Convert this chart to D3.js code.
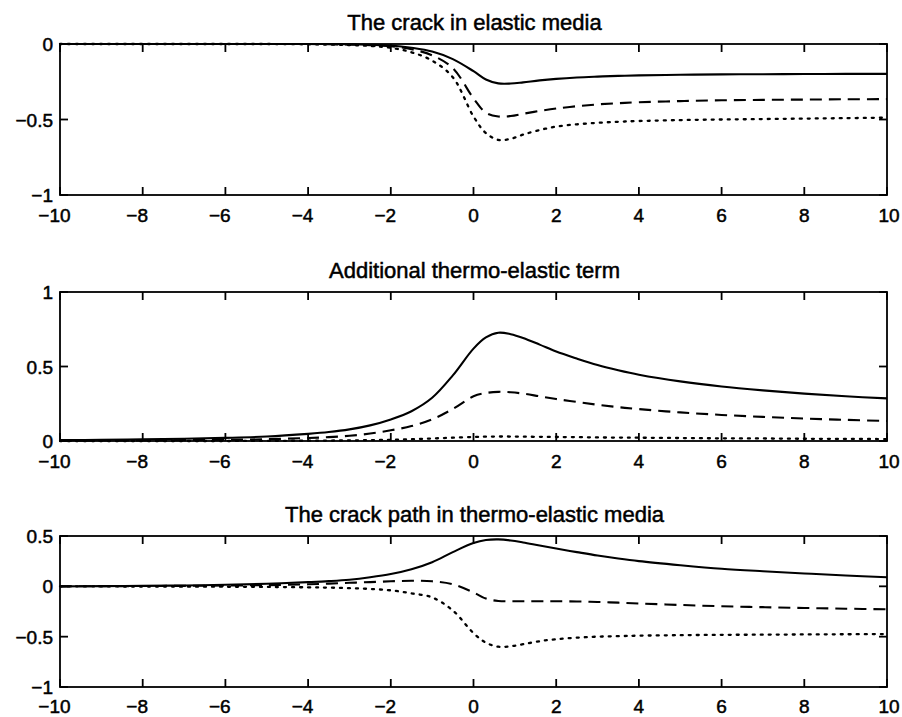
<!DOCTYPE html>
<html>
<head>
<meta charset="utf-8">
<script src="https://cdn.jsdelivr.net/npm/d3@7"></script>
<style>
  html, body { margin: 0; padding: 0; background: #fff; }
  svg { display: block; }
  text { font-family: "Liberation Sans", Arial, Helvetica, sans-serif; fill: #000; }
</style>
</head>
<body>
<svg id="chart" width="902" height="717"></svg>
<script>
// ---- data ----
const xs = [-10,-9,-8,-7,-6,-5,-4,-3.5,-3,-2.5,-2,-1.5,-1,-0.5,0,0.3,0.6,0.9,1.2,1.6,2,2.5,3,3.5,4,5,6,7,8,9,10];

// Panel 1: The crack in elastic media
const elasticSolid  = [0,0,0,0,0,0,0,0,-0.002,-0.005,-0.01,-0.025,-0.05,-0.1,-0.18,-0.235,-0.261,-0.262,-0.254,-0.241,-0.231,-0.222,-0.216,-0.211,-0.208,-0.204,-0.201,-0.2,-0.199,-0.198,-0.198];
const elasticDashed = [0,0,0,0,0,0,0,-0.002,-0.004,-0.008,-0.015,-0.035,-0.075,-0.16,-0.36,-0.455,-0.48,-0.477,-0.462,-0.443,-0.427,-0.412,-0.4,-0.392,-0.386,-0.378,-0.373,-0.37,-0.368,-0.366,-0.365];
const elasticDotted = [0,0,0,0,0,0,-0.002,-0.004,-0.007,-0.013,-0.025,-0.055,-0.11,-0.22,-0.48,-0.59,-0.635,-0.628,-0.6,-0.57,-0.547,-0.532,-0.522,-0.515,-0.51,-0.504,-0.5,-0.497,-0.494,-0.491,-0.488];

// Panel 2: Additional thermo-elastic term
const termSolid  = [0.006,0.008,0.011,0.015,0.021,0.03,0.048,0.06,0.078,0.105,0.145,0.2,0.29,0.44,0.62,0.695,0.727,0.717,0.692,0.647,0.6,0.553,0.51,0.475,0.445,0.4,0.366,0.34,0.318,0.3,0.286];
const termDashed = [0.002,0.003,0.004,0.006,0.008,0.012,0.02,0.026,0.035,0.05,0.072,0.1,0.145,0.215,0.3,0.322,0.33,0.327,0.318,0.3,0.282,0.262,0.243,0.227,0.214,0.192,0.175,0.162,0.151,0.142,0.134];
const termDotted = [0,0,0,0,0,0.001,0.002,0.003,0.004,0.006,0.008,0.012,0.017,0.022,0.027,0.029,0.03,0.03,0.029,0.028,0.027,0.026,0.024,0.023,0.022,0.02,0.018,0.017,0.015,0.014,0.013];

// Panel 3: The crack path in thermo-elastic media
const pathSolid  = [0,0.002,0.005,0.009,0.015,0.025,0.042,0.052,0.066,0.09,0.122,0.17,0.24,0.34,0.43,0.46,0.466,0.456,0.436,0.405,0.375,0.34,0.306,0.276,0.25,0.21,0.175,0.15,0.128,0.108,0.09];
const pathDashed = [0,0.001,0.003,0.005,0.008,0.012,0.02,0.027,0.035,0.042,0.05,0.055,0.05,0.02,-0.06,-0.122,-0.145,-0.148,-0.148,-0.148,-0.148,-0.15,-0.155,-0.162,-0.17,-0.185,-0.198,-0.207,-0.215,-0.222,-0.228];
const pathDotted = [0,-0.001,-0.002,-0.003,-0.004,-0.006,-0.01,-0.013,-0.018,-0.026,-0.04,-0.07,-0.11,-0.24,-0.465,-0.56,-0.6,-0.595,-0.575,-0.545,-0.525,-0.51,-0.5,-0.495,-0.49,-0.485,-0.482,-0.48,-0.478,-0.476,-0.474];

const xTicks = [-10,-8,-6,-4,-2,0,2,4,6,8,10];
const titles = ["The crack in elastic media", "Additional thermo-elastic term", "The crack path in thermo-elastic media"];
const yDomains = [[-1, 0], [0, 1], [-1, 0.5]];
const yTicks = [[-1, -0.5, 0], [0, 0.5, 1], [-1, -0.5, 0, 0.5]];
const seriesSets = [
  [elasticSolid, elasticDashed, elasticDotted],
  [termSolid, termDashed, termDotted],
  [pathSolid, pathDashed, pathDotted]
];

// ---- layout ----
const svg = d3.select("#chart");
svg.append("rect").attr("width", 902).attr("height", 717).attr("fill", "#fff");
const left = 60, right = 887;
const panels = [{top: 44, bottom: 195}, {top: 292, bottom: 441}, {top: 536, bottom: 687}];
const styles = [{dash: null}, {dash: "12,7"}, {dash: "2,6"}];
const tickLen = 8;
const axisW = 1.8;
const textStroke = 0.5;

const x = d3.scaleLinear().domain([-10, 10]).range([left, right]);

function label(g, v, attrs) {
  const t = g.append("text").attr("font-size", 19)
    .attr("stroke", "#000").attr("stroke-width", textStroke);
  Object.entries(attrs).forEach(([k, val]) => t.attr(k, val));
  t.text((v < 0 ? "\u2212" : "") + String(Math.abs(v)));
  return t;
}

panels.forEach((p, i) => {
  const y = d3.scaleLinear().domain(yDomains[i]).range([p.bottom, p.top]);
  const g = svg.append("g");

  // title
  g.append("text")
    .attr("x", (left + right) / 2 + 1)
    .attr("y", p.top - 14)
    .attr("text-anchor", "middle")
    .attr("font-size", 22)
    .attr("stroke", "#000").attr("stroke-width", textStroke)
    .text(titles[i]);

  // curves
  const line = d3.line()
    .x((d, k) => x(xs[k]))
    .y(d => y(d))
    .curve(d3.curveCatmullRom.alpha(0.5));
  seriesSets[i].forEach((vals, s) => {
    g.append("path")
      .attr("d", line(vals))
      .attr("fill", "none")
      .attr("stroke", "#000")
      .attr("stroke-width", s === 2 ? 2.3 : 2.1)
      .attr("stroke-dasharray", styles[s].dash)
      .attr("stroke-linecap", s === 2 ? "round" : "butt")
      .attr("stroke-linejoin", "round");
  });

  // box
  g.append("rect")
    .attr("x", left).attr("y", p.top)
    .attr("width", right - left).attr("height", p.bottom - p.top)
    .attr("fill", "none").attr("stroke", "#000").attr("stroke-width", axisW);

  // x ticks (inside, top & bottom)
  xTicks.forEach(v => {
    const px = x(v);
    g.append("line").attr("x1", px).attr("x2", px).attr("y1", p.bottom).attr("y2", p.bottom - tickLen)
      .attr("stroke", "#000").attr("stroke-width", axisW);
    g.append("line").attr("x1", px).attr("x2", px).attr("y1", p.top).attr("y2", p.top + tickLen)
      .attr("stroke", "#000").attr("stroke-width", axisW);
    const probe = g.append("text").attr("font-size", 19).attr("visibility", "hidden").text(String(Math.abs(v)));
    const w = probe.node().getComputedTextLength();
    probe.remove();
    label(g, v, {x: px + w / 2 + (v === 10 ? 2 : 0), y: p.bottom + (i === 2 ? 26 : 27), "text-anchor": "end"});
  });

  // y ticks (inside, left & right)
  yTicks[i].forEach(v => {
    const py = y(v);
    g.append("line").attr("x1", left).attr("x2", left + tickLen).attr("y1", py).attr("y2", py)
      .attr("stroke", "#000").attr("stroke-width", axisW);
    g.append("line").attr("x1", right).attr("x2", right - tickLen).attr("y1", py).attr("y2", py)
      .attr("stroke", "#000").attr("stroke-width", axisW);
    label(g, v, {x: left - 7, y: py + 7, "text-anchor": "end"});
  });
});
</script>
</body>
</html>
